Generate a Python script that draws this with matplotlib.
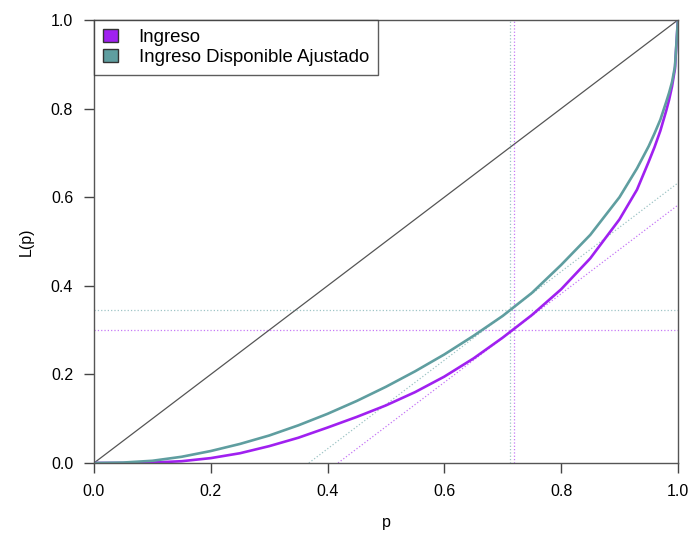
import matplotlib.pyplot as plt
from matplotlib.patches import Patch

plt.rcParams['font.family'] = ['Liberation Sans', 'DejaVu Sans']

# Lorenz curve, Ingreso
p_ing = [0, 0.05, 0.1, 0.15, 0.2, 0.25, 0.3, 0.35, 0.4, 0.45, 0.5, 0.55, 0.6,
         0.65, 0.7, 0.75, 0.8, 0.85, 0.9, 0.93, 0.95, 0.96, 0.97, 0.98, 0.985, 0.99, 0.995, 1.0]
L_ing = [0, 0.0, 0.001, 0.004, 0.011, 0.022, 0.038, 0.057, 0.080, 0.104, 0.130, 0.160, 0.195,
         0.236, 0.283, 0.334, 0.392, 0.462, 0.550, 0.617, 0.680, 0.713, 0.750, 0.795, 0.820, 0.850, 0.890, 1.0]

# Lorenz curve, Ingreso Disponible Ajustado
p_ida = [0, 0.05, 0.1, 0.15, 0.2, 0.25, 0.3, 0.35, 0.4, 0.45, 0.5, 0.55, 0.6,
         0.65, 0.7, 0.75, 0.8, 0.85, 0.9, 0.93, 0.95, 0.96, 0.97, 0.98, 0.985, 0.99, 0.995, 1.0]
L_ida = [0, 0.001, 0.005, 0.014, 0.027, 0.043, 0.062, 0.085, 0.111, 0.140, 0.172, 0.207, 0.245,
         0.287, 0.332, 0.384, 0.447, 0.515, 0.600, 0.665, 0.715, 0.744, 0.775, 0.815, 0.836, 0.860, 0.895, 1.0]

# point where slope = 1 (p*, L(p*)) and tangent line intercept
pstar_ing, Lstar_ing, icpt_ing = 0.719, 0.300, -0.418
pstar_ida, Lstar_ida, icpt_ida = 0.712, 0.345, -0.368

col_ing = '#A020F0'
col_ida = '#5F9EA0'

fig = plt.figure(figsize=(6.91, 5.35), dpi=100)
ax = fig.add_axes([0.136, 0.1346, 0.845, 0.828])

# equality line
ax.plot([0, 1], [0, 1], color='#555555', lw=0.9)

# dotted reference lines
ax.axvline(pstar_ida, color=col_ida, lw=0.9, ls=':', alpha=0.6)
ax.axhline(Lstar_ida, color=col_ida, lw=0.9, ls=':', alpha=0.6)
ax.axline((0, icpt_ida), slope=1, color=col_ida, lw=0.9, ls=':', alpha=0.6)
ax.axvline(pstar_ing, color=col_ing, lw=0.9, ls=':', alpha=0.6)
ax.axhline(Lstar_ing, color=col_ing, lw=0.9, ls=':', alpha=0.6)
ax.axline((0, icpt_ing), slope=1, color=col_ing, lw=0.9, ls=':', alpha=0.6)

ax.plot(p_ing, L_ing, color=col_ing, lw=1.9)
ax.plot(p_ida, L_ida, color=col_ida, lw=1.9)

ax.set_xlim(0, 1)
ax.set_ylim(0, 1)
ax.set_xticks([0, 0.2, 0.4, 0.6, 0.8, 1.0])
ax.set_yticks([0, 0.2, 0.4, 0.6, 0.8, 1.0])
ax.set_xticklabels(['0.0', '0.2', '0.4', '0.6', '0.8', '1.0'])
ax.set_yticklabels(['0.0', '0.2', '0.4', '0.6', '0.8', '1.0'])
ax.tick_params(direction='out', length=7, width=1, color='#444444',
               labelsize=11.5, pad=8)
for s in ax.spines.values():
    s.set_color('#555555')
    s.set_linewidth(1)

ax.set_xlabel('p', fontsize=11.5, labelpad=12)
ax.set_ylabel('L(p)', fontsize=11.5, labelpad=12)

handles = [Patch(facecolor=col_ing, edgecolor='#333333', label='Ingreso'),
           Patch(facecolor=col_ida, edgecolor='#333333', label='Ingreso Disponible Ajustado')]
leg = ax.legend(handles=handles, loc='upper left', borderaxespad=0, fancybox=False,
                edgecolor='#333333', fontsize=13.4, handlelength=0.8, handleheight=0.7,
                labelspacing=0.12, borderpad=0.5, handletextpad=1.1)
leg.get_frame().set_linewidth(1)

fig.savefig('out.png', dpi=100)
